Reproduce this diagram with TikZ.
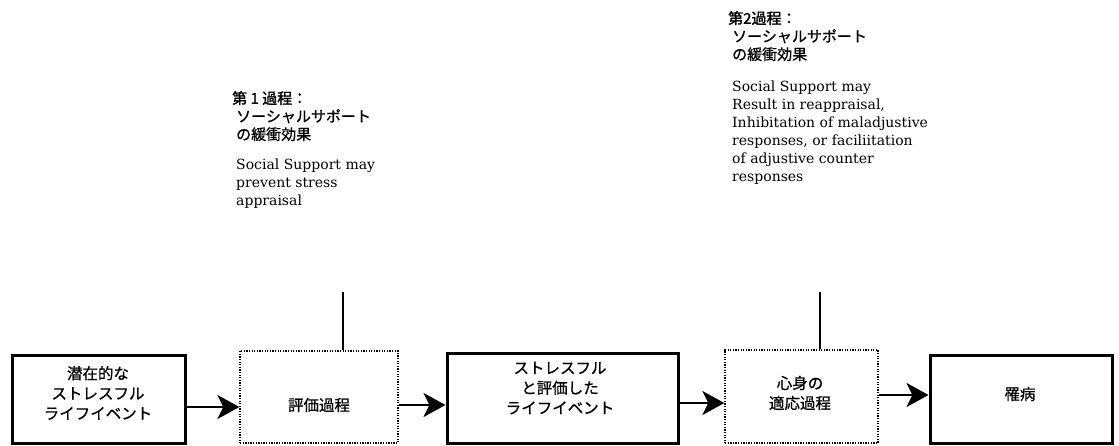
\documentclass[tikz,border=0pt]{standalone}
\usepackage{fontspec}
\setmainfont{DejaVu Serif}
\newfontfamily\cjk[FakeBold=0.8]{Noto Sans CJK JP}
\newfontfamily\cjkb[FakeBold=1.6]{Noto Sans CJK JP}
\usetikzlibrary{arrows.meta}
\begin{document}
\begin{tikzpicture}[x=1pt,y=-1pt,
  solidbox/.style={draw, line width=3pt, inner sep=0pt},
  dotbox/.style={draw, line width=1.3pt, dash pattern=on 1.3pt off 1.3pt, inner sep=0pt},
  boxtext/.style={align=center, inner sep=0pt, font=\cjk\fontsize{15.5}{20}\selectfont},
  conn/.style={line width=2.8pt, -{Stealth[length=22pt,width=24pt,inset=6pt]}},
  tickline/.style={line width=2pt},
  note/.style={anchor=north west, align=left, inner sep=0pt, font=\fontsize{14}{18}\selectfont}]
\useasboundingbox (0,0) rectangle (1119,446);
% boxes
\node[solidbox, minimum width=173pt, minimum height=88pt] (b1) at (98.5,399) {};
\node[dotbox,   minimum width=158pt, minimum height=92pt] (b2) at (319,397) {};
\node[solidbox, minimum width=231pt, minimum height=90pt] (b3) at (562.5,398) {};
\node[dotbox,   minimum width=153pt, minimum height=93pt] (b4) at (801.5,396.5) {};
\node[solidbox, minimum width=182pt, minimum height=88pt] (b5) at (1021,399) {};
% box texts
\node[boxtext] (t1) at (98,393) {潜在的な\\ストレスフル\\ライフイベント};
\node[boxtext] (t2) at (319,405) {評価過程};
\node[boxtext] (t3) at (560,388) {ストレスフル\\と評価した\\ライフイベント};
\node[boxtext] (t4) at (800,393) {心身の\\適応過程};
\node[boxtext] (t5) at (1020,394) {罹病};
% arrows
\draw[conn] (b1.east |- 0,407) -- (b2.west |- 0,407);
\draw[conn] (b2.east |- 0,405) -- (b3.west |- 0,405);
\draw[conn] (b3.east |- 0,403) -- (b4.west |- 0,403);
\draw[conn] (b4.east |- 0,395) -- (b5.west |- 0,395);
% support lines
\coordinate (s1) at (343,292);
\coordinate (s2) at (820,292);
\draw[tickline] (s1) -- (s1 |- b2.north);
\draw[tickline] (s2) -- (s2 |- b4.north);
% notes
\node[note] (n1) at (232,91) {{\cjkb\fontsize{15}{18}\selectfont 第 1 過程：}\\
\hspace*{4pt}{\cjk\fontsize{15}{18}\selectfont ソーシャルサポート}\\
\hspace*{4pt}{\cjk\fontsize{15}{18}\selectfont の緩衝効果}\\[12pt]
\hspace*{4pt}Social Support may\\
\hspace*{4pt}prevent stress\\
\hspace*{4pt}appraisal};
\node[note] (n2) at (728,11) {{\cjkb\fontsize{15}{18}\selectfont 第2過程：}\\
\hspace*{4pt}{\cjk\fontsize{15}{18}\selectfont ソーシャルサポート}\\
\hspace*{4pt}{\cjk\fontsize{15}{18}\selectfont の緩衝効果}\\[14pt]
\hspace*{4pt}Social Support may\\
\hspace*{4pt}Result in reappraisal,\\
\hspace*{4pt}Inhibitation of maladjustive\\
\hspace*{4pt}responses, or faciliitation\\
\hspace*{4pt}of adjustive counter\\
\hspace*{4pt}responses};
\end{tikzpicture}
\end{document}
